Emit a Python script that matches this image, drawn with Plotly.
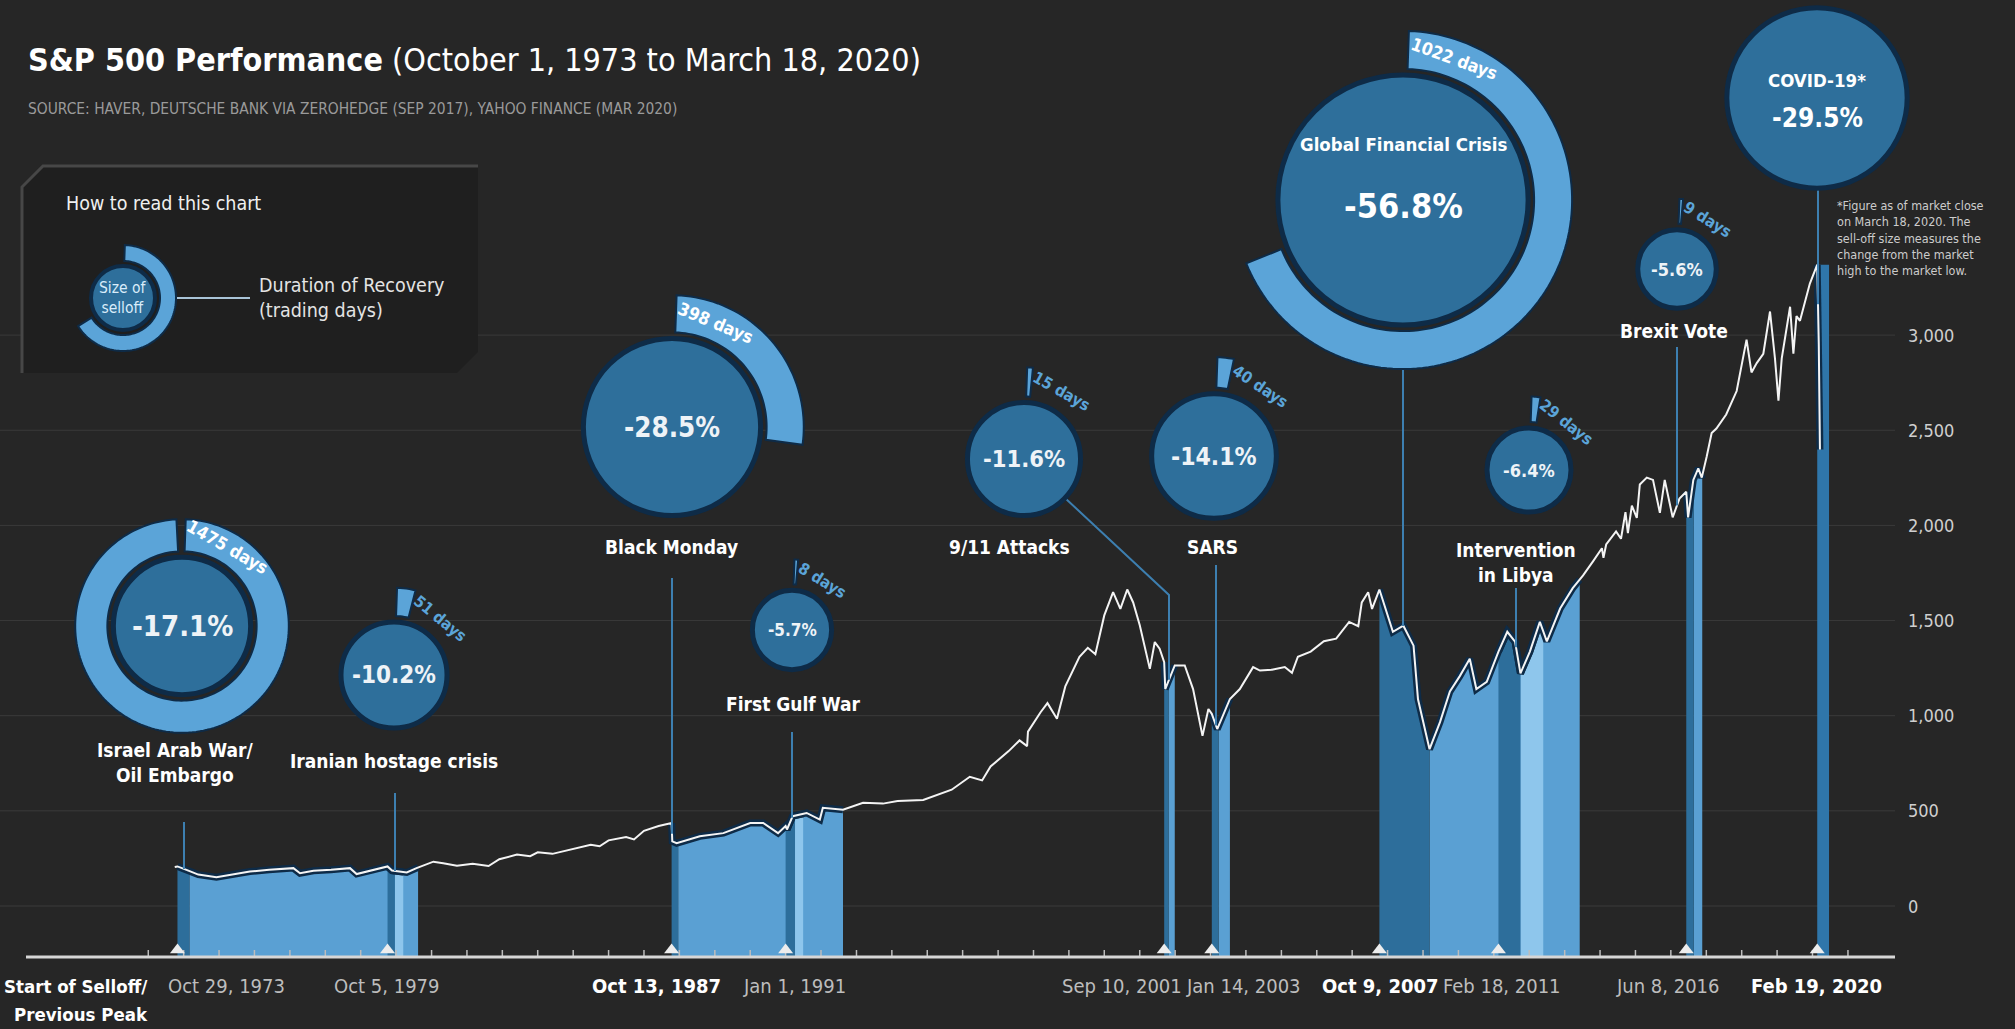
import math
import numpy as np
import pandas as pd
import plotly.graph_objects as go

# ---------------------------------------------------------------
# S&P 500 level at turning points, Oct 1973 - Mar 2020
# ---------------------------------------------------------------
sp_dates = [
    "1973-10-01", "1973-10-29", "1974-01-30", "1974-06-01", "1974-12-05", "1975-06-01",
    "1975-11-15", "1976-06-01", "1977-02-06", "1977-04-15", "1977-09-01", "1978-03-01",
    "1978-09-13", "1978-11-20", "1979-05-01", "1979-10-05", "1979-11-20", "1980-04-20",
    "1980-07-30", "1981-01-20", "1981-05-01", "1981-09-20", "1982-03-01", "1982-08-12",
    "1982-12-01", "1983-06-01", "1983-10-15", "1984-01-01", "1984-06-01", "1984-10-10",
    "1985-01-01", "1985-07-01", "1985-10-01", "1986-01-01", "1986-07-01", "1986-09-20",
    "1987-01-01", "1987-06-01", "1987-10-13", "1987-10-20",
    "1987-12-04", "1988-07-30", "1989-03-30", "1990-01-01", "1990-05-15", "1990-10-15",
    "1991-01-01", "1991-01-15", "1991-03-15", "1991-08-06", "1991-12-20", "1992-01-20",
    "1992-08-15", "1993-03-10", "1993-10-01", "1994-03-01", "1994-11-20", "1995-09-10",
    "1996-03-15", "1996-07-20", "1996-10-15", "1997-04-20", "1997-08-10", "1997-10-27",
    "1997-11-05", "1998-03-15", "1998-05-25",
    "1998-08-31", "1998-11-25", "1999-04-20", "1999-07-15", "1999-10-01", "2000-01-01",
    "2000-04-01", "2000-06-15", "2000-08-25", "2000-10-25", "2001-01-01", "2001-04-15",
    "2001-06-05", "2001-07-25", "2001-09-10", "2001-09-21", "2001-12-28", "2002-04-10",
    "2002-07-05", "2002-10-10", "2002-12-10", "2003-01-14", "2003-03-11", "2003-07-20",
    "2003-10-30", "2004-03-15", "2004-05-25", "2004-09-25", "2005-02-05", "2005-04-20",
    "2005-06-20", "2005-10-30", "2006-03-15", "2006-07-20", "2006-12-01", "2007-03-05",
    "2007-04-10", "2007-06-15", "2007-07-25", "2007-10-09", "2008-02-25", "2008-06-12",
    "2008-09-25", "2008-11-10",
    "2009-03-09", "2009-06-25", "2009-10-05", "2010-01-15", "2010-04-28", "2010-07-05",
    "2010-10-20", "2011-02-18", "2011-05-20", "2011-08-08", "2011-10-03", "2012-01-08",
    "2012-04-20", "2012-07-01", "2012-11-15", "2013-03-25", "2013-07-10", "2013-10-22",
    "2014-01-20", "2014-02-05", "2014-03-05", "2014-06-15", "2014-08-05", "2014-09-20",
    "2014-10-15", "2014-11-25", "2015-01-15", "2015-02-15", "2015-04-28",
    "2015-07-01", "2015-09-10", "2015-10-30", "2016-01-20", "2016-03-30", "2016-06-08",
    "2016-06-27", "2016-08-20", "2016-10-10", "2016-11-15", "2017-01-05", "2017-02-25",
    "2017-04-15", "2017-07-25", "2017-11-10", "2018-02-20", "2018-04-12", "2018-06-05",
    "2018-08-12", "2018-10-20", "2018-12-10", "2019-01-15", "2019-02-18", "2019-04-10",
    "2019-05-15", "2019-06-18", "2019-07-20", "2019-08-25", "2019-10-15", "2019-12-05",
    "2020-02-19", "2020-03-06", "2020-03-18",
]
sp_values = [
    205, 208, 190, 165, 151, 168,
    181, 190, 199, 172, 185, 190,
    199, 168, 190, 208, 186, 176,
    199, 233, 225, 212, 222, 210,
    246, 270, 262, 282, 274, 290,
    300, 322, 314, 345, 362, 350,
    395, 420, 436, 340,
    330, 366, 383, 436, 436, 383,
    420, 402, 472, 489, 454, 516,
    506, 542, 538, 552, 557, 611,
    679, 660, 733, 814, 870, 840,
    916, 1018, 1066,
    984, 1154, 1310, 1357, 1323, 1527,
    1649, 1561, 1663, 1595, 1475, 1246,
    1387, 1352, 1281, 1140, 1264, 1264,
    1140, 894, 1035, 1010, 930, 1088,
    1140, 1255, 1237, 1242, 1256, 1225,
    1310, 1337, 1391, 1405, 1493, 1470,
    1595, 1649, 1561, 1663, 1441, 1473,
    1368, 1086,
    824, 966, 1127, 1208, 1299, 1140,
    1178, 1337, 1441, 1389, 1222, 1337,
    1493, 1391, 1563, 1670, 1737, 1812,
    1880, 1830, 1900, 1968, 1930, 2070,
    1960, 2104, 2040, 2215, 2251,
    2239, 2066, 2239, 2042, 2141, 2177,
    2042, 2239, 2300, 2251, 2362, 2485,
    2509, 2583, 2706, 2976, 2804, 2853,
    2902, 3124, 2878, 2656, 2878, 3026,
    3149, 2902, 3100, 3075, 3173, 3271,
    3370, 2952, 2399,
]

# ---------------------------------------------------------------
# Sell-off episodes
# ---------------------------------------------------------------
event_names = ["Israel Arab War/<br>Oil Embargo", "Iranian hostage crisis", "Black Monday",
               "First Gulf War", "9/11 Attacks", "SARS", "Global Financial Crisis",
               "Intervention<br>in Libya", "Brexit Vote", "COVID-19*"]
event_dates = ["1973-10-29", "1979-10-05", "1987-10-13", "1991-01-01", "2001-09-10",
               "2003-01-14", "2007-10-09", "2011-02-18", "2016-06-08", "2020-02-19"]
event_ticklabels = ["Oct 29, 1973", "Oct 5, 1979", "Oct 13, 1987", "Jan 1, 1991",
                    "Sep 10, 2001", "Jan 14, 2003", "Oct 9, 2007", "Feb 18, 2011",
                    "Jun 8, 2016", "Feb 19, 2020"]
selloff_pct = [-17.1, -10.2, -28.5, -5.7, -11.6, -14.1, -56.8, -6.4, -5.6, -29.5]
recovery_days = [1475, 51, 398, 8, 15, 40, 1022, 29, 9, None]
# shaded bands: sell-off runs from the event date to the trough, recovery to the band end
trough_dates = ["1974-03-01", "1979-12-20", "1987-12-20", "1991-04-08", "2001-10-25",
                "2003-03-25", "2009-03-09", "2011-10-03", "2016-08-25", "2020-06-20"]
band_end_dates = ["1980-08-15", "1980-03-15", "1992-08-15", "1991-07-01", "2001-12-28",
                  "2003-07-20", "2013-06-05", "2012-05-25", "2016-11-20", "2020-06-20"]
y_ticks = [0, 500, 1000, 1500, 2000, 2500, 3000]

# ---------------------------------------------------------------
# Page geometry and styling
# ---------------------------------------------------------------
W, H = 2015, 1029
BG = "#262626"
FONT = "Liberation Sans Narrow, DejaVu Sans Condensed, Arial Narrow, sans-serif"
DARK, LIGHT, LIGHTER = "#2d6e9b", "#5aa0d3", "#8ec6ec"
COVID_BAND = "#2f76aa"
NAVY = "#0e2b47"
DISC, RING = "#2e6f9b", "#5ba4d8"
LEADER = "#3d7fb0"

PX0_YEAR, PX_PER_YEAR = 1968.813, 35.41      # horizontal scale
ZERO_PX, PX_PER_POINT = 906.0, 0.1903         # vertical scale
BASELINE_PX = 957.0


def year_to_ts(y):
    yr = int(math.floor(y))
    a, b = pd.Timestamp(year=yr, month=1, day=1), pd.Timestamp(year=yr + 1, month=1, day=1)
    return a + (b - a) * (y - yr)


T0 = year_to_ts(PX0_YEAR)
T1 = year_to_ts(PX0_YEAR + W / PX_PER_YEAR)
Y_LO = -(H - ZERO_PX) / PX_PER_POINT
Y_HI = ZERO_PX / PX_PER_POINT
BASE = (ZERO_PX - BASELINE_PX) / PX_PER_POINT

sp_ts = pd.to_datetime(sp_dates)
sp_ns = sp_ts.asi8.astype(float)
sp_arr = np.array(sp_values, dtype=float)


def level_at(ts):
    return float(np.interp(pd.Timestamp(ts).value, sp_ns, sp_arr))


def px_to_ts(px):
    return T0 + (T1 - T0) * (px / W)


def val_px(v):
    return ZERO_PX - v * PX_PER_POINT


def segment(a, b):
    a, b = pd.Timestamp(a), pd.Timestamp(b)
    xs, ys = [a], [level_at(a)]
    for t, v in zip(sp_ts, sp_values):
        if a < t < b:
            xs.append(t)
            ys.append(v)
    xs.append(b)
    ys.append(level_at(b))
    return xs, ys


# bubble layout (pixel positions on the page)
bubble_cx = [182, 394, 672, 792, 1024, 1214, 1403, 1529, 1677, 1817]
bubble_cy = [626, 675, 427, 630, 459, 456, 200, 470, 269, 98]
pct_font = [29, 24, 27.5, 17, 23.5, 24.5, 34, 18, 18, 26]
label_xy = [(175, 762), (394, 761), (671, 547), (793, 704), (1009, 547), (1212, 547),
            None, (1516, 562), (1674, 331), None]
leader_x = [184, 395, 672, 792, 1169, 1216, 1403, 1516, 1677, 1818]
leader_top = [822, 793, 578, 732, 595, 565, 331, 588, 347, 188]
tick_xshift = [49, -1, -15, 9, -42, 32, 1, 4, -19, -1]
tick_bold = [False, False, True, False, False, False, True, False, False, True]

RADIUS_K = 16.6       # disc radius = K * sqrt(|sell-off %|)
RING_GAP = 6
FULL_RING_DAYS, FULL_RING_DEG = 1475, 355


def ring_width(r):
    return min(0.25 * r + 15, 38)


fig = go.Figure()

# ---------------- shaded sell-off / recovery bands ----------------
light_spans = []
for i in range(len(event_dates)):
    if recovery_days[i] is not None:
        light_spans.append((pd.Timestamp(trough_dates[i]), pd.Timestamp(band_end_dates[i])))


def band(a, b, color):
    xs, ys = segment(a, b)
    fig.add_trace(go.Scatter(x=xs + [xs[-1], xs[0]], y=ys + [BASE, BASE], mode="lines",
                             fill="toself", fillcolor=color, line=dict(width=0),
                             hoverinfo="skip"))


for a, b in light_spans:
    band(a, b, LIGHT)
for i in range(len(light_spans)):
    for j in range(i + 1, len(light_spans)):
        a = max(light_spans[i][0], light_spans[j][0])
        b = min(light_spans[i][1], light_spans[j][1])
        if a < b:
            band(a, b, LIGHTER)
for i in range(len(event_dates)):
    if recovery_days[i] is None:
        # still falling: band stands to the pre-crash peak
        a, b = pd.Timestamp(event_dates[i]), pd.Timestamp(band_end_dates[i])
        top = max(v for t, v in zip(sp_ts, sp_values) if t >= a)
        fig.add_trace(go.Scatter(x=[a, b, b, a, a], y=[top, top, BASE, BASE, top], mode="lines",
                                 fill="toself", fillcolor=COVID_BAND, line=dict(width=0),
                                 hoverinfo="skip"))
    else:
        band(event_dates[i], trough_dates[i], DARK)

# navy casing under the index line inside the bands
for i in range(len(event_dates)):
    xs, ys = segment(event_dates[i], min(pd.Timestamp(band_end_dates[i]), sp_ts[-1]))
    fig.add_trace(go.Scatter(x=xs, y=ys, mode="lines", line=dict(color=NAVY, width=7),
                             hoverinfo="skip"))

# the index line
fig.add_trace(go.Scatter(x=sp_ts, y=sp_values, mode="lines",
                         line=dict(color="#f4f4f4", width=2), hoverinfo="skip"))

# yearly tick marks on the time axis
tx, ty = [], []
tick_h = 7 / PX_PER_POINT
for yr in range(1973, 2022):
    t = pd.Timestamp(year=yr, month=1, day=1)
    tx += [t, t, None]
    ty += [BASE, BASE + tick_h, None]
fig.add_trace(go.Scatter(x=tx, y=ty, mode="lines", line=dict(color="#bdbdbd", width=1.5),
                         hoverinfo="skip"))

# event markers on the baseline
fig.add_trace(go.Scatter(x=pd.to_datetime(event_dates), y=[BASE + 7 / PX_PER_POINT] * len(event_dates),
                         mode="markers", marker=dict(symbol="triangle-up", size=13, color="#ededed"),
                         hoverinfo="skip"))

# pixel-space overlay anchor
fig.add_trace(go.Scatter(x=[0], y=[0], xaxis="x2", yaxis="y2", mode="markers",
                         marker=dict(opacity=0), hoverinfo="skip"))

shapes, annots = [], []


def text(x, y, s, size, color="white", bold=False, xanchor="center", yanchor="middle",
         angle=0, xref="x2", yref="y2", xshift=0, align="center"):
    annots.append(dict(x=x, y=y, xref=xref, yref=yref, text=f"<b>{s}</b>" if bold else s,
                       showarrow=False, font=dict(family=FONT, size=size, color=color),
                       xanchor=xanchor, yanchor=yanchor, textangle=angle, xshift=xshift,
                       align=align))


def ring_path(cx, cy, r_in, r_out, a0, a1):
    n = max(6, int(abs(a1 - a0) / 2))
    angs = [math.radians(a0 + (a1 - a0) * k / n) for k in range(n + 1)]
    outer = [(cx + r_out * math.sin(a), cy - r_out * math.cos(a)) for a in angs]
    inner = [(cx + r_in * math.sin(a), cy - r_in * math.cos(a)) for a in reversed(angs)]
    pts = outer + inner
    return "M " + " L ".join(f"{x:.2f},{y:.2f}" for x, y in pts) + " Z"


# gridlines
for v in y_ticks:
    shapes.append(dict(type="line", xref="x2", yref="y", x0=0, x1=1895, y0=v, y1=v,
                       line=dict(color="#3a3a3a", width=1), layer="below"))
    text(1906, v, f"{v:,}", 18, color="#cfcfcf", xanchor="left", yref="y")

# baseline
shapes.append(dict(type="line", xref="x2", yref="y", x0=26, x1=1895, y0=BASE, y1=BASE,
                   line=dict(color="#d6d6d6", width=3), layer="above"))

# legend box
shapes.append(dict(type="path", xref="x2", yref="y2", layer="below",
                   path="M 22,187 L 43,166 L 478,166 L 478,352 L 457,373 L 22,373 Z",
                   fillcolor="#1f1f1f", line=dict(width=0)))
shapes.append(dict(type="path", xref="x2", yref="y2", layer="below",
                   path="M 22,373 L 22,187 L 43,166 L 478,166",
                   line=dict(color="#474747", width=3)))
text(64, 203, "How to read this chart", 19.5, color="#f0f0f0", xanchor="left")
lg_cx, lg_cy, lg_r = 123, 298, 32
shapes.append(dict(type="path", xref="x2", yref="y2",
                   path=ring_path(lg_cx, lg_cy, lg_r + 5, lg_r + 21, 2, 238),
                   fillcolor=RING, line=dict(color=NAVY, width=2)))
shapes.append(dict(type="circle", xref="x2", yref="y2", x0=lg_cx - lg_r, x1=lg_cx + lg_r,
                   y0=lg_cy - lg_r, y1=lg_cy + lg_r, fillcolor=DISC, line=dict(color=NAVY, width=4)))
text(lg_cx, lg_cy, "Size of<br>selloff", 15.5, color="#d9ecfa")
shapes.append(dict(type="line", xref="x2", yref="y2", x0=lg_cx + lg_r + 22, x1=250,
                   y0=lg_cy, y1=lg_cy, line=dict(color="#a9c4d8", width=2)))
text(257, lg_cy, "Duration of Recovery<br>(trading days)", 19.5, color="#e4e4e4",
     xanchor="left", align="left")

# leader lines from the index up to each bubble / label
for i in range(len(event_dates)):
    lx = leader_x[i]
    bottom = val_px(level_at(px_to_ts(lx)))
    if i == 4:
        path = f"M 1065,498 L {lx},{leader_top[i]} L {lx},{bottom:.1f}"
        shapes.append(dict(type="path", xref="x2", yref="y2", path=path,
                           line=dict(color=LEADER, width=2)))
    else:
        shapes.append(dict(type="line", xref="x2", yref="y2", x0=lx, x1=lx,
                           y0=leader_top[i], y1=bottom, line=dict(color=LEADER, width=2)))

# bubbles: disc area ~ sell-off size, ring arc ~ recovery duration
for i in range(len(event_dates)):
    cx, cy = bubble_cx[i], bubble_cy[i]
    r = RADIUS_K * math.sqrt(abs(selloff_pct[i]))
    r_in = r + RING_GAP
    r_out = r_in + ring_width(r)
    r_mid = (r_in + r_out) / 2
    days = recovery_days[i]
    if days is not None:
        span = max(3.0, days / FULL_RING_DAYS * FULL_RING_DEG)
        a0 = 2.0
        shapes.append(dict(type="path", xref="x2", yref="y2",
                           path=ring_path(cx, cy, r_in, r_out, a0, a0 + span),
                           fillcolor=RING, line=dict(color=NAVY, width=2)))
        label = f"{days} days"
        if span > 60:
            fs = 17.5
            length = len(label) * 0.5 * fs
            mid = a0 + 3 + math.degrees(length / r_mid) / 2
            col = "white"
        else:
            fs = 16
            length = len(label) * 0.5 * fs
            mid = a0 + span + 3 + math.degrees(length / r_mid) / 2
            col = RING
        th = math.radians(mid)
        text(cx + r_mid * math.sin(th), cy - r_mid * math.cos(th), label, fs, color=col,
             bold=True, angle=mid)
    shapes.append(dict(type="circle", xref="x2", yref="y2", x0=cx - r, x1=cx + r,
                       y0=cy - r, y1=cy + r, fillcolor=DISC, line=dict(color=NAVY, width=5)))
    pct = f"{selloff_pct[i]:.1f}%"
    if i == 6:
        text(cx, cy - 56, event_names[i], 18.5, bold=True)
        text(cx, cy + 6, pct, pct_font[i], bold=True)
    elif i == 9:
        text(cx, cy - 18, event_names[i], 18.5, bold=True)
        text(cx, cy + 20, pct, pct_font[i], bold=True)
    else:
        text(cx, cy, pct, pct_font[i], bold=True, color="#eef3f7")
        lx, ly = label_xy[i]
        text(lx, ly, event_names[i], 19, bold=True)

# date labels under the axis
for i in range(len(event_dates)):
    text(event_dates[i], 986, event_ticklabels[i], 20, bold=tick_bold[i],
         color="white" if tick_bold[i] else "#bdbdbd", xref="x", xshift=tick_xshift[i])
text(150, 986, "Start of Selloff/", 18.5, bold=True, xanchor="right")
text(150, 1014, "Previous Peak", 18.5, bold=True, xanchor="right")

# title block
text(26, 60, "<b>S&P 500 Performance</b> (October 1, 1973 to March 18, 2020)", 32,
     color="white", xanchor="left")
text(26, 109, "SOURCE: HAVER, DEUTSCHE BANK VIA ZEROHEDGE (SEP 2017), YAHOO FINANCE (MAR 2020)",
     15.4, color="#9a9a9a", xanchor="left")

# footnote
text(1835, 196, "*Figure as of market close<br>on March 18, 2020. The<br>sell-off size measures the"
     "<br>change from the market<br>high to the market low.", 12.5, color="#cccccc",
     xanchor="left", yanchor="top", align="left")

fig.update_layout(
    width=W, height=H, margin=dict(l=0, r=0, t=0, b=0, pad=0),
    paper_bgcolor=BG, plot_bgcolor=BG, showlegend=False, hovermode=False,
    xaxis=dict(type="date", range=[T0, T1], visible=False, domain=[0, 1], fixedrange=True),
    yaxis=dict(range=[Y_LO, Y_HI], visible=False, domain=[0, 1], fixedrange=True),
    xaxis2=dict(range=[0, W], overlaying="x", visible=False, anchor="y2", fixedrange=True),
    yaxis2=dict(range=[H, 0], overlaying="y", visible=False, anchor="x2", fixedrange=True),
    shapes=shapes, annotations=annots,
)

fig.write_html("out.html", config={"displayModeBar": False})
